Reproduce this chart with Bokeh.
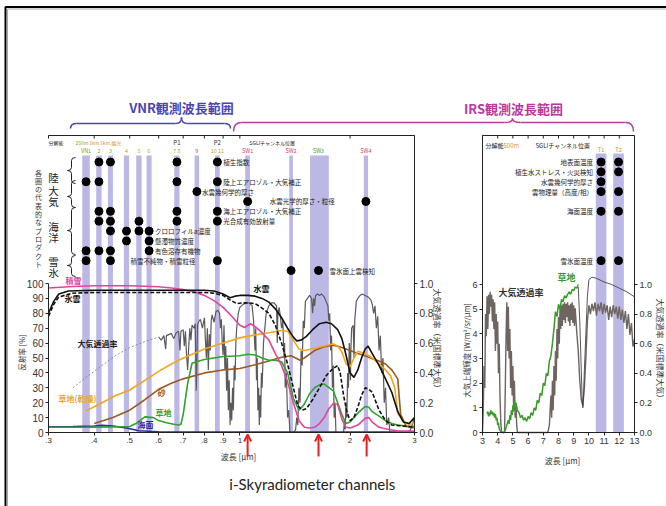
import numpy as np
from bokeh.plotting import figure
from bokeh.models import (Range1d, LogScale, LinearAxis, LogAxis, FixedTicker,
                          PrintfTickFormatter, ColumnDataSource, Arrow, OpenHead)
from bokeh.core.properties import value
from bokeh.embed import file_html
from bokeh.resources import INLINE

# ======================= DATA =======================
# SGLI VNR / SWIR channels (um)
band_names = ["VN1", "VN2", "VN3", "VN4", "VN5", "VN6", "VN7/8", "VN9", "VN10/11", "SW1", "SW2", "SW3", "SW4"]
band_center = [0.380, 0.412, 0.443, 0.490, 0.530, 0.565, 0.673, 0.763, 0.868, 1.050, 1.380, 1.640, 2.210]
band_lo = [0.371, 0.405, 0.436, 0.482, 0.521, 0.556, 0.662, 0.752, 0.855, 1.034, 1.364, 1.555, 2.180]
band_hi = [0.389, 0.419, 0.450, 0.498, 0.539, 0.574, 0.684, 0.774, 0.881, 1.066, 1.396, 1.750, 2.240]
band_label = ["VN1", "2", "3", "4", "5", "6", "7 8", "9", "10 11", "SW1", "SW2", "SW3", "SW4"]

# SGLI IRS thermal channels (um)
tir_names = ["T1", "T2"]
tir_center = [10.80, 11.95]
tir_lo = [10.45, 11.60]
tir_hi = [11.15, 12.30]

# products (rows) and the channels they use
prod_left = ["植生指数", "陸上エアロゾル・大気補正", "水雲幾何学的厚さ", "水雲光学的厚さ・粒径",
             "海上エアロゾル・大気補正", "光合成有効放射量", "クロロフィルa濃度", "懸濁物質濃度",
             "有色溶存有機物", "積雪不純物・積雪粒径", "雪氷面上雲検知"]
prod_left_row = [0, 2, 3, 4, 5, 6, 7, 8, 9, 10, 11]
prod_left_bands = [["VN2", "VN3", "VN7/8", "VN10/11"], ["VN1", "VN2", "VN7/8", "VN10/11"], ["VN9"],
                   ["SW1", "SW4"], ["VN2", "VN3", "VN7/8", "VN10/11"],
                   ["VN2", "VN3", "VN5", "VN7/8", "VN10/11"], ["VN3", "VN4", "VN5", "VN6"],
                   ["VN4", "VN6"], ["VN1", "VN2", "VN3", "VN6"], ["VN1", "VN3", "VN10/11"],
                   ["SW2", "SW3"]]
prod_right = ["地表面温度", "植生水ストレス・火災検知", "水雲幾何学的厚さ", "雲物理量（高度/相）",
              "海面温度", "雪氷面温度"]
prod_right_row = [0, 1, 2, 3, 5, 10]
prod_right_bands = [["T1", "T2"], ["T1", "T2"], ["T1"], ["T1", "T2"], ["T1", "T2"], ["T1", "T2"]]

# i-Skyradiometer channels (um)
skyrad_wl = [1.05, 1.64, 2.22]

# reflectance spectra [%]
snow_wl = [0.30, 0.35, 0.40, 0.45, 0.50, 0.55, 0.60, 0.65, 0.70, 0.75, 0.80, 0.85, 0.90, 0.95, 1.00,
           1.03, 1.07, 1.10, 1.15, 1.20, 1.25, 1.30, 1.35, 1.40, 1.45, 1.50, 1.55, 1.60, 1.65, 1.70,
           1.75, 1.80, 1.85, 1.90, 1.95, 2.00, 2.10, 2.20, 2.25, 2.30, 2.40, 2.50, 2.70, 3.00]
snow_r = [97, 98, 98.5, 98.5, 98.5, 98.2, 97.8, 97, 96, 94.5, 92, 88.5, 84, 78, 72,
          70.5, 73, 71, 67, 62, 53, 45, 34, 20, 8, 3.5, 3, 3.5, 6, 10,
          16, 19.5, 19, 9, 3.5, 3, 5, 9.5, 10, 7, 3.5, 2.5, 1, 1]

wcloud_wl = [0.30, 0.31, 0.32, 0.34, 0.40, 0.50, 0.60, 0.70, 0.80, 0.85, 0.90, 0.94, 0.97, 1.00, 1.05,
             1.10, 1.15, 1.20, 1.25, 1.30, 1.35, 1.40, 1.43, 1.47, 1.52, 1.58, 1.65, 1.72, 1.78, 1.85,
             1.90, 1.95, 2.00, 2.05, 2.10, 2.15, 2.20, 2.24, 2.30, 2.40, 2.50, 2.60, 2.70, 2.80, 2.90, 3.00]
wcloud_r = [80, 88, 93, 95, 95.5, 95.5, 95.5, 95.5, 95.5, 95, 93, 90.5, 91.5, 92, 92,
            91.5, 90, 87.5, 83, 77, 70, 64, 61.5, 62, 64.5, 69, 73, 74, 73, 69,
            63, 52, 40, 37, 42, 50, 56, 58, 53, 45, 36, 27, 14, 7, 6, 10]

icloud_wl = [0.30, 0.31, 0.32, 0.35, 0.40, 0.50, 0.60, 0.70, 0.80, 0.85, 0.90, 0.94, 0.98, 1.02, 1.06,
             1.10, 1.15, 1.20, 1.25, 1.30, 1.35, 1.40, 1.44, 1.48, 1.52, 1.58, 1.65, 1.72, 1.78, 1.85,
             1.88, 1.92, 1.96, 2.00, 2.05, 2.10, 2.15, 2.20, 2.25, 2.30, 2.40, 2.50, 2.60, 2.75, 3.00]
icloud_r = [78, 86, 91, 93.5, 94, 94, 94, 94, 94, 93.5, 92, 89, 86.5, 87, 87,
            86.5, 83.5, 80, 72, 60, 46, 30, 18, 15, 16, 22, 30, 38, 42, 45,
            40, 25, 14, 8, 10, 17, 25, 30, 29, 27, 15, 8, 5, 4.5, 3.5]

drygrass_wl = [0.38, 0.42, 0.46, 0.50, 0.55, 0.60, 0.65, 0.70, 0.75, 0.80, 0.90, 1.00, 1.10, 1.20, 1.30,
               1.35, 1.40, 1.45, 1.50, 1.60, 1.70, 1.80, 1.85, 1.90, 1.95, 2.00, 2.05, 2.10, 2.20, 2.30,
               2.40, 2.50, 2.58, 2.65, 2.70, 2.80, 2.90, 3.00]
drygrass_r = [14.5, 20, 25, 28.5, 35, 41, 46, 50, 53, 56, 60, 63.5, 65.5, 67, 68.5,
              68, 62, 56, 55, 56.5, 58, 59.5, 58, 54, 46, 44, 50, 54.5, 53, 50,
              46, 42, 38, 30, 13, 7, 5.5, 6]

sand_wl = [0.40, 0.45, 0.50, 0.55, 0.60, 0.65, 0.70, 0.80, 0.90, 1.00, 1.10, 1.20, 1.30, 1.38, 1.42,
           1.46, 1.50, 1.60, 1.70, 1.80, 1.90, 2.00, 2.10, 2.20, 2.30, 2.40, 2.50, 2.60, 2.70, 2.75,
           2.85, 3.00]
sand_r = [6, 10, 15, 22, 29, 33, 36, 40, 42, 43, 45.5, 48, 50.5, 51.5, 50,
          48.5, 50, 55, 57.5, 58.5, 57, 55, 53, 51.5, 49.5, 48, 46, 42, 36, 12,
          4, 3]

grass_wl = [0.30, 0.35, 0.40, 0.45, 0.50, 0.52, 0.55, 0.58, 0.60, 0.63, 0.66, 0.68, 0.69, 0.70, 0.72,
            0.74, 0.76, 0.80, 0.90, 1.00, 1.05, 1.10, 1.15, 1.20, 1.25, 1.30, 1.35, 1.40, 1.45, 1.50,
            1.55, 1.60, 1.65, 1.70, 1.80, 1.85, 1.90, 1.95, 2.00, 2.10, 2.20, 2.25, 2.30, 2.40, 2.50,
            2.60, 2.70, 2.80, 3.00]
grass_r = [3.5, 3.5, 3.5, 3.8, 4, 6, 10.5, 10, 8, 6.5, 5.5, 5, 5.5, 12, 33,
           46.5, 47.5, 49, 51, 51.5, 52.5, 52, 50, 48.5, 48.5, 47.5, 40, 23, 15, 19,
           26, 30, 32, 32.5, 28, 20, 12, 6, 7, 13, 17.5, 17, 14, 11, 8,
           6, 5, 4.5, 4]

ocean_wl = [0.30, 0.35, 0.40, 0.42, 0.45, 0.49, 0.53, 0.60, 0.70, 1.00, 2.00, 3.00]
ocean_r = [3.8, 4.0, 4.4, 4.8, 4.4, 3.0, 1.2, 0.5, 0.3, 0.3, 0.3, 0.3]

# atmospheric transmittance (US standard atmosphere), 0.3-3 um
trans_smooth_wl = [0.35, 0.38, 0.42, 0.46, 0.50, 0.55, 0.60]
trans_smooth_t = [0.30, 0.37, 0.45, 0.52, 0.57, 0.61, 0.64]
trans_vnr = [(0.60, 0.64), (0.61, 0.62), (0.62, 0.65), (0.627, 0.56), (0.63, 0.65), (0.65, 0.665),
             (0.66, 0.63), (0.67, 0.67), (0.68, 0.68), (0.686, 0.55), (0.69, 0.68), (0.70, 0.69),
             (0.705, 0.58), (0.71, 0.68), (0.715, 0.52), (0.72, 0.42), (0.725, 0.58), (0.73, 0.70),
             (0.735, 0.62), (0.74, 0.72), (0.75, 0.70), (0.755, 0.73), (0.760, 0.28), (0.763, 0.45),
             (0.766, 0.72), (0.77, 0.74), (0.78, 0.76), (0.79, 0.70), (0.80, 0.77), (0.805, 0.62),
             (0.81, 0.50), (0.815, 0.70), (0.82, 0.42), (0.825, 0.66), (0.83, 0.55), (0.835, 0.75),
             (0.84, 0.79), (0.85, 0.74), (0.86, 0.81), (0.87, 0.82), (0.88, 0.80), (0.885, 0.70),
             (0.89, 0.76), (0.895, 0.60), (0.90, 0.52), (0.905, 0.72), (0.91, 0.42), (0.915, 0.58),
             (0.92, 0.28), (0.925, 0.50), (0.93, 0.15), (0.935, 0.35), (0.94, 0.05), (0.945, 0.20),
             (0.95, 0.08), (0.955, 0.30), (0.96, 0.15), (0.965, 0.45), (0.97, 0.35), (0.975, 0.60),
             (0.98, 0.70), (0.99, 0.80), (1.00, 0.84), (1.02, 0.86), (1.04, 0.87), (1.06, 0.87),
             (1.08, 0.85), (1.09, 0.75), (1.10, 0.55), (1.105, 0.70), (1.11, 0.35), (1.115, 0.50),
             (1.12, 0.15), (1.125, 0.30), (1.13, 0.05), (1.135, 0.25), (1.14, 0.10), (1.145, 0.40),
             (1.15, 0.30), (1.16, 0.60), (1.17, 0.70), (1.18, 0.80), (1.20, 0.85), (1.22, 0.87),
             (1.24, 0.87), (1.26, 0.85), (1.265, 0.60), (1.27, 0.80), (1.28, 0.84), (1.29, 0.78),
             (1.30, 0.70), (1.31, 0.75), (1.32, 0.50), (1.325, 0.60), (1.33, 0.30), (1.34, 0.40),
             (1.35, 0.10), (1.36, 0.15), (1.37, 0.0), (1.40, 0.0), (1.42, 0.02), (1.43, 0.10),
             (1.44, 0.05), (1.45, 0.30), (1.46, 0.20), (1.47, 0.55), (1.48, 0.45), (1.49, 0.75),
             (1.50, 0.70), (1.51, 0.88), (1.53, 0.90), (1.55, 0.92), (1.57, 0.90), (1.58, 0.80),
             (1.59, 0.90), (1.60, 0.85), (1.61, 0.92), (1.63, 0.93), (1.65, 0.92), (1.67, 0.93),
             (1.70, 0.91), (1.72, 0.88), (1.74, 0.85), (1.75, 0.75), (1.76, 0.80), (1.77, 0.55),
             (1.78, 0.65), (1.79, 0.30), (1.80, 0.45), (1.81, 0.10), (1.82, 0.20), (1.83, 0.0),
             (1.92, 0.0), (1.93, 0.08), (1.94, 0.02), (1.95, 0.20), (1.96, 0.10), (1.97, 0.40),
             (1.98, 0.30), (1.99, 0.60), (2.00, 0.50), (2.005, 0.35), (2.01, 0.55), (2.02, 0.70),
             (2.04, 0.72), (2.05, 0.50), (2.06, 0.75), (2.08, 0.88), (2.10, 0.90), (2.13, 0.92),
             (2.16, 0.93), (2.20, 0.92), (2.24, 0.91), (2.28, 0.89), (2.30, 0.86), (2.32, 0.80),
             (2.34, 0.85), (2.36, 0.70), (2.38, 0.78), (2.40, 0.55), (2.42, 0.65), (2.44, 0.40),
             (2.46, 0.50), (2.48, 0.20), (2.50, 0.30), (2.52, 0.05), (2.55, 0.10), (2.57, 0.0),
             (2.90, 0.0), (2.95, 0.04), (3.00, 0.10)]

# atmospheric transmittance, 3-13 um
trans_tir = [(3.0, 0.0), (3.05, 0.15), (3.1, 0.45), (3.15, 0.30), (3.2, 0.80), (3.25, 0.65), (3.3, 0.92),
             (3.35, 0.70), (3.4, 0.93), (3.45, 0.80), (3.5, 0.95), (3.55, 0.85), (3.6, 0.93), (3.65, 0.75),
             (3.7, 0.90), (3.75, 0.70), (3.8, 0.88), (3.85, 0.55), (3.9, 0.80), (3.95, 0.60), (4.0, 0.75),
             (4.05, 0.40), (4.1, 0.60), (4.15, 0.25), (4.2, 0.08), (4.25, 0.0), (4.45, 0.0), (4.5, 0.30),
             (4.55, 0.65), (4.6, 0.88), (4.65, 0.55), (4.7, 0.85), (4.75, 0.50), (4.8, 0.70), (4.85, 0.30),
             (4.9, 0.55), (4.95, 0.25), (5.0, 0.45), (5.05, 0.15), (5.1, 0.35), (5.15, 0.10), (5.2, 0.20),
             (5.25, 0.05), (5.3, 0.0), (7.3, 0.0), (7.4, 0.05), (7.5, 0.25), (7.55, 0.10), (7.6, 0.35),
             (7.65, 0.15), (7.7, 0.45), (7.75, 0.25), (7.8, 0.55), (7.85, 0.35), (7.9, 0.70), (7.95, 0.50),
             (8.0, 0.78), (8.05, 0.60), (8.1, 0.84), (8.15, 0.70), (8.2, 0.86), (8.25, 0.72), (8.3, 0.87),
             (8.35, 0.76), (8.4, 0.88), (8.45, 0.74), (8.5, 0.87), (8.55, 0.78), (8.6, 0.88), (8.65, 0.75),
             (8.7, 0.86), (8.75, 0.72), (8.8, 0.87), (8.85, 0.76), (8.9, 0.88), (8.95, 0.74), (9.0, 0.86),
             (9.05, 0.72), (9.1, 0.84), (9.2, 0.68), (9.3, 0.55), (9.4, 0.35), (9.5, 0.22), (9.6, 0.18),
             (9.7, 0.30), (9.8, 0.50), (9.9, 0.75), (10.0, 0.86), (10.1, 0.80), (10.2, 0.87), (10.3, 0.82),
             (10.4, 0.88), (10.5, 0.79), (10.6, 0.87), (10.7, 0.82), (10.8, 0.88), (10.9, 0.80), (11.0, 0.87),
             (11.1, 0.81), (11.2, 0.86), (11.3, 0.76), (11.4, 0.85), (11.5, 0.78), (11.6, 0.86),
             (11.7, 0.80), (11.8, 0.85), (11.9, 0.77), (12.0, 0.85), (12.1, 0.76), (12.2, 0.83),
             (12.3, 0.74), (12.4, 0.82), (12.5, 0.70), (12.6, 0.80), (12.7, 0.66), (12.8, 0.74),
             (12.9, 0.58), (13.0, 0.63)]

# top-of-atmosphere radiance over grassland [W/m2/sr/um]
grass_toa = [(3.3, 0.75), (3.35, 0.85), (3.4, 0.65), (3.45, 0.80), (3.5, 0.70), (3.55, 0.90), (3.6, 0.75),
             (3.65, 0.85), (3.7, 0.70), (3.75, 0.80), (3.8, 0.60), (3.85, 0.75), (3.9, 0.50), (3.95, 0.60),
             (4.0, 0.30), (4.05, 0.40), (4.1, 0.15), (4.2, 0.02), (4.4, 0.0), (4.5, 0.10), (4.6, 0.30),
             (4.7, 0.50), (4.75, 0.35), (4.8, 0.70), (4.85, 0.50), (4.9, 0.90), (4.95, 0.70), (5.0, 1.10),
             (5.05, 0.85), (5.1, 1.30), (5.15, 1.00), (5.2, 1.20), (5.3, 0.90), (5.4, 0.80), (5.5, 0.60),
             (5.6, 0.70), (5.7, 0.50), (5.8, 0.60), (5.9, 0.45), (6.0, 0.65), (6.1, 0.55), (6.2, 0.80),
             (6.3, 0.70), (6.4, 1.00), (6.5, 0.90), (6.6, 1.30), (6.7, 1.20), (6.8, 1.60), (6.9, 1.50),
             (7.0, 2.00), (7.1, 1.90), (7.2, 2.40), (7.3, 2.30), (7.4, 2.90), (7.5, 3.10), (7.6, 3.60),
             (7.7, 4.20), (7.8, 4.90), (7.9, 4.70), (8.0, 5.20), (8.1, 5.00), (8.2, 5.40), (8.3, 5.30),
             (8.4, 5.55), (8.5, 5.45), (8.6, 5.60), (8.7, 5.70), (8.8, 5.60), (8.9, 5.80), (9.0, 5.75),
             (9.1, 5.90), (9.2, 5.85), (9.3, 6.00)]
toa_window = [(9.3, 5.9), (9.4, 4.5), (9.5, 2.5), (9.55, 1.5), (9.6, 1.0), (9.65, 1.5), (9.7, 2.5),
              (9.8, 4.0), (9.9, 5.5), (10.0, 6.2), (10.2, 6.3), (10.5, 6.25), (11.0, 6.1), (11.5, 6.0),
              (12.0, 5.85), (12.5, 5.7), (13.0, 5.5)]

refl_ticks = [0, 10, 20, 30, 40, 50, 60, 70, 80, 90, 100]
trans_ticks = [0.0, 0.2, 0.4, 0.6, 0.8, 1.0]
wl_ticks = [0.3, 0.4, 0.5, 0.6, 0.7, 0.8, 0.9, 1.0, 2.0, 3.0]
wl_tick_labels = [".3", ".4", ".5", ".6", ".7", ".8", ".9", "1", "2", "3"]
rad_ticks = [0, 1, 2, 3, 4, 5, 6]
tir_wl_ticks = [3, 4, 5, 6, 7, 8, 9, 10, 11, 12, 13]

# ======================= LAYOUT =======================
W, H = 666, 506
PX_L, PX_R, PX_B, PX_T = 0, 666, 506, 0      # page pixels covered by the canvas

def lin_at(v1, p1, v2, p2, px):
    return v1 + (v2 - v1) * (px - p1) / (p2 - p1)

def log_at(v1, p1, v2, p2, px):
    return 10 ** lin_at(np.log10(v1), p1, np.log10(v2), p2, px)

# (value, pixel) anchors of each panel's scales
LX = (0.3, 48, 3.0, 414)
LR = (0, 432, 100, 283)
LT = (0, 432, 1.0, 283)
RX = (3, 482, 13, 634)
RR = (0, 432, 6, 284)
RT = (0, 432, 1.0, 284)
PR = (0, 161.5, 11, 270)
BOX_TOP = 135
BAND_TOP = 155

JP = value("Noto Sans CJK JP")
BAND_COLOR = "#bcb8e6"
AX = "#222222"

p = figure(width=W, height=H, x_range=Range1d(PX_L, PX_R), y_range=Range1d(PX_B, PX_T),
           x_axis_type=None, y_axis_type=None, output_backend="svg", toolbar_location=None,
           min_border=0, outline_line_color=None, background_fill_color="white",
           border_fill_color="white")
p.extra_x_ranges = {"lx": Range1d(log_at(*LX, PX_L), log_at(*LX, PX_R)),
                    "rx": Range1d(lin_at(*RX, PX_L), lin_at(*RX, PX_R))}
p.extra_x_scales = {"lx": LogScale()}
p.extra_y_ranges = {name: Range1d(lin_at(*a, PX_B), lin_at(*a, PX_T))
                    for name, a in [("lr", LR), ("lt", LT), ("rr", RR), ("rt", RT), ("pr", PR)]}


def style_axis(ax, size="10px"):
    ax.axis_line_color = AX
    ax.axis_line_width = 1
    ax.major_tick_line_color = AX
    ax.major_tick_in = 0
    ax.major_tick_out = 3
    ax.minor_tick_line_color = None
    ax.major_label_text_font = "Liberation Sans"
    ax.major_label_text_font_size = size
    ax.major_label_text_color = "#333333"
    ax.major_label_standoff = 2
    return ax

# ---- left panel axes
p.add_layout(style_axis(LinearAxis(x_range_name="lx", y_range_name="lr", fixed_location=LX[0],
                                   bounds=(0, 100), ticker=FixedTicker(ticks=refl_ticks)), "10px"), "left")
p.add_layout(style_axis(LinearAxis(x_range_name="lx", y_range_name="lt", fixed_location=LX[2],
                                   bounds=(0, lin_at(*LT, BOX_TOP)), ticker=FixedTicker(ticks=trans_ticks),
                                   formatter=PrintfTickFormatter(format="%.1f")), "10px"), "right")
p.add_layout(style_axis(LogAxis(x_range_name="lx", y_range_name="lr", fixed_location=0,
                                bounds=(LX[0], LX[2]), ticker=FixedTicker(ticks=wl_ticks),
                                major_label_overrides=dict(zip(wl_ticks, wl_tick_labels))), "8px"), "below")
# box top edge with inward ticks
p.segment(x0=[LX[0]], y0=[BOX_TOP], x1=[LX[2]], y1=[BOX_TOP], x_range_name="lx", line_color=AX, line_width=1)
p.segment(x0=wl_ticks, y0=BOX_TOP, x1=wl_ticks, y1=BOX_TOP + 3, x_range_name="lx", line_color=AX, line_width=1)

# ---- right panel axes
p.add_layout(style_axis(LinearAxis(x_range_name="rx", y_range_name="rr", fixed_location=RX[0],
                                   bounds=(0, lin_at(*RR, BOX_TOP)), ticker=FixedTicker(ticks=rad_ticks)), "9px"), "left")
p.add_layout(style_axis(LinearAxis(x_range_name="rx", y_range_name="rt", fixed_location=RX[2],
                                   bounds=(0, lin_at(*RT, BOX_TOP)), ticker=FixedTicker(ticks=trans_ticks),
                                   formatter=PrintfTickFormatter(format="%.1f")), "9px"), "right")
p.add_layout(style_axis(LinearAxis(x_range_name="rx", y_range_name="rr", fixed_location=0,
                                   bounds=(RX[0], RX[2]), ticker=FixedTicker(ticks=tir_wl_ticks)), "9px"), "below")
p.segment(x0=[RX[0]], y0=[BOX_TOP], x1=[RX[2]], y1=[BOX_TOP], x_range_name="rx", line_color=AX, line_width=1)
p.segment(x0=tir_wl_ticks, y0=BOX_TOP, x1=tir_wl_ticks, y1=BOX_TOP + 3, x_range_name="rx",
          line_color=AX, line_width=1)

# ---- channel bands
p.quad(left=band_lo, right=band_hi, bottom=0, top=lin_at(*LR, BAND_TOP), x_range_name="lx",
       y_range_name="lr", fill_color=BAND_COLOR, line_color=None)
p.quad(left=tir_lo, right=tir_hi, bottom=0, top=lin_at(*RR, BAND_TOP - 2), x_range_name="rx",
       y_range_name="rr", fill_color=BAND_COLOR, line_color=None)

# ---- left panel spectra
p.line(trans_smooth_wl, trans_smooth_t, x_range_name="lx", y_range_name="lt",
       line_color="#777777", line_width=0.8, line_dash="2 2")
tw, tt = zip(*trans_vnr)
p.line(list(tw), list(tt), x_range_name="lx", y_range_name="lt", line_color="#5a5a5a", line_width=1.2)
for xs, ys, col, dash in [(ocean_wl, ocean_r, "#2a2aa0", "solid"),
                          (sand_wl, sand_r, "#9a5a22", "solid"),
                          (drygrass_wl, drygrass_r, "#f2a51f", "solid"),
                          (grass_wl, grass_r, "#2ea32e", "solid"),
                          (snow_wl, snow_r, "#e0449e", "solid"),
                          (icloud_wl, icloud_r, "#111111", "4 2"),
                          (wcloud_wl, wcloud_r, "#111111", "solid")]:
    p.line(xs, ys, x_range_name="lx", y_range_name="lr", line_color=col, line_width=1.6, line_dash=dash)

# ---- right panel spectra
rw, rt_ = zip(*trans_tir)
p.line(list(rw), list(rt_), x_range_name="rx", y_range_name="rt", line_color="#6e6460", line_width=1.4)
gw, gr = zip(*grass_toa)
p.line(list(gw), list(gr), x_range_name="rx", y_range_name="rr", line_color="#3a9a2a", line_width=1.5)
ww, wr = zip(*toa_window)
p.line(list(ww), list(wr), x_range_name="rx", y_range_name="rr", line_color="#444444", line_width=0.9)

# ---- product dots
bc = dict(zip(band_names, band_center))
dx, dy = [], []
for row, bands in zip(prod_left_row, prod_left_bands):
    for b in bands:
        dx.append(bc[b]); dy.append(row)
p.scatter(dx, dy, size=8, color="black", x_range_name="lx", y_range_name="pr")
tc = dict(zip(tir_names, tir_center))
dx, dy = [], []
for row, bands in zip(prod_right_row, prod_right_bands):
    for b in bands:
        dx.append(tc[b]); dy.append(row)
p.scatter(dx, dy, size=8, color="black", x_range_name="rx", y_range_name="pr")

# product labels (anchored on a channel, offset in pixels)
label_anchor = ["VN10/11", "VN10/11", "VN9", "SW1", "VN10/11", "VN10/11", "VN6", "VN6", "VN6", "VN4", "SW3"]
label_off = [6, 6, 5, 22, 6, 6, 6, 6, 6, 4, 11]
p.text([bc[a] for a in label_anchor], prod_left_row, text=prod_left, x_offset=label_off,
       x_range_name="lx", y_range_name="pr", text_font=JP, text_font_size="6.5px",
       text_baseline="middle", text_color="#222222")
p.text([tc["T1"]] * len(prod_right), prod_right_row, text=prod_right, x_offset=-8,
       x_range_name="rx", y_range_name="pr", text_font=JP, text_font_size="6.5px",
       text_align="right", text_baseline="middle", text_color="#222222")

# channel labels
band_label_color = ["#5aa52a", "#8caf20", "#8caf20", "#d49a20", "#d49a20", "#d49a20", "#c9a020",
                    "#d04070", "#c9a020", "#d04070", "#d04070", "#3fa040", "#d04070"]
p.text(band_center, [150] * len(band_center), text=band_label, x_range_name="lx",
       text_font=JP, text_font_size="5.5px", text_align="center", text_baseline="middle",
       text_color=band_label_color)
p.text([band_center[6], band_center[8]], [141.5, 141.5], text=["P1", "P2"], x_range_name="lx",
       text_font=JP, text_font_size="6px", text_align="center", text_baseline="middle", text_color="#333333")
p.text(tir_center, [149, 149], text=["T1", "T2"], x_range_name="rx", text_font=JP,
       text_font_size="5.5px", text_align="center", text_baseline="middle", text_color="#d08a30")

# header texts (pixel layout)
p.text([48, 75, 88.5, 99.5, 249], [141.5] * 5, text=["分解能", "250m", "1km", "1km,偏光", "SGLIチャンネル位置"],
       text_font=JP, text_font_size="5px", text_baseline="middle",
       text_color=["#222222", "#8caf20", "#e0902a", "#e0902a", "#222222"])
p.text([485, 503, 535], [144.5] * 3, text=["分解能", "500m", "SGLIチャンネル位置"],
       text_font=JP, text_font_size="6px", text_baseline="middle",
       text_color=["#222222", "#e0902a", "#222222"])

# titles
p.text([181], [107], text=["VNR観測波長範囲"], text_font=JP, text_font_size="13px",
       text_font_style="bold", text_align="center", text_baseline="middle", text_color="#4b45b0")
p.text([513], [108], text=["IRS観測波長範囲"], text_font=JP, text_font_size="13px",
       text_font_style="bold", text_align="center", text_baseline="middle", text_color="#b83aa0")


def hbrace(xa, xb, xm, y_end, y_flat, y_tip, r, color, w):
    p.quadratic(x0=[xa, xm - r, xm, xb - r], y0=[y_end, y_flat, y_tip, y_flat],
                x1=[xa + r, xm, xm + r, xb], y1=[y_flat, y_tip, y_flat, y_end],
                cx=[xa, xm, xm, xb], cy=[y_flat] * 4, line_color=color, line_width=w)
    p.segment(x0=[xa + r, xm + r], y0=[y_flat] * 2, x1=[xm - r, xb - r], y1=[y_flat] * 2,
              line_color=color, line_width=w)


def vbrace(ya, yb, ym, x_end, x_flat, x_tip, r, color, w):
    p.quadratic(y0=[ya, ym - r, ym, yb - r], x0=[x_end, x_flat, x_tip, x_flat],
                y1=[ya + r, ym, ym + r, yb], x1=[x_flat, x_tip, x_flat, x_end],
                cy=[ya, ym, ym, yb], cx=[x_flat] * 4, line_color=color, line_width=w)
    p.segment(y0=[ya + r, ym + r], x0=[x_flat] * 2, y1=[ym - r, yb - r], x1=[x_flat] * 2,
              line_color=color, line_width=w)


hbrace(70, 230, 181, 128, 123, 117, 6, "#4b45b0", 1.5)
hbrace(233, 633, 512, 131, 122, 118, 8, "#b83aa0", 1.5)
for ya, yb, ym in [(157, 183, 170), (180, 207, 196), (207, 254, 230), (255, 276, 265)]:
    vbrace(ya, yb, ym, 75, 71, 67, 3, "#222222", 1)

# sphere labels, written vertically one character per line
p.text([53] * 7, [177, 190, 201, 226, 237, 261, 272], text=list("陸大気海洋雪氷"),
       text_font=JP, text_font_size="10.5px", text_align="center", text_baseline="middle",
       text_color="#222222")
vt = "各圏の代表的なプロダクト"
p.text([38] * len(vt), [172 + 8.3 * i for i in range(len(vt))], text=list(vt), text_font=JP,
       text_font_size="7px", text_align="center", text_baseline="middle", text_color="#333333")

# curve labels
p.text([65, 64, 253, 77, 58, 157, 155, 137], [280, 298, 288, 343, 398, 392, 412, 424],
       text=["積雪", "氷雲", "水雲", "大気透過率", "草地(乾燥)", "砂", "草地", "海面"],
       text_font=JP, text_font_size="8px", text_baseline="middle", text_font_style="bold",
       text_color=["#e0449e", "#111111", "#111111", "#222222", "#f2a51f", "#9a5a22", "#2ea32e", "#2a2aa0"])
p.text([498, 557], [292, 277], text=["大気透過率", "草地"], text_font=JP, text_font_size="9px",
       text_baseline="middle", text_font_style="bold", text_color=["#333333", "#3a9a2a"])

# axis titles
p.text([21], [352], text=["反射率 [%]"], angle=np.pi / 2, text_font=JP, text_font_size="7.5px",
       text_align="center", text_baseline="middle", text_color="#333333")
p.text([437], [340], text=["大気透過率（米国標準大気）"], angle=-np.pi / 2, text_font=JP,
       text_font_size="8px", text_align="center", text_baseline="middle", text_color="#333333")
p.text([466], [350], text=["大気上端輝度 [W/m²/sr/μm]"], angle=np.pi / 2, text_font=JP,
       text_font_size="7.5px", text_align="center", text_baseline="middle", text_color="#333333")
p.text([660], [350], text=["大気透過率（米国標準大気）"], angle=-np.pi / 2, text_font=JP,
       text_font_size="8px", text_align="center", text_baseline="middle", text_color="#333333")
p.text([238, 562], [456, 460], text=["波長 [μm]", "波長 [μm]"], text_font=JP, text_font_size="8px",
       text_align="center", text_baseline="middle", text_color="#333333")

# i-Skyradiometer channels
red = "#e82020"
src = ColumnDataSource(dict(x=skyrad_wl, y0=[lin_at(*LR, 456)] * 3, y1=[lin_at(*LR, 434)] * 3))
p.add_layout(Arrow(x_start="x", y_start="y0", x_end="x", y_end="y1", source=src,
                   x_range_name="lx", y_range_name="lr", line_color=red, line_width=2,
                   end=OpenHead(size=7, line_color=red, line_width=2)))
p.text([312], [483], text=["i-Skyradiometer channels"], text_font=value("Lato"), text_font_size="15px",
       text_align="center", text_baseline="middle", text_color="#222222")

# page frame
p.line([5, 5, 666], [506, 6.5, 6.5], line_color="black", line_width=2)
p.line([7, 7, 666], [506, 8.5, 8.5], line_color="#aaaaaa", line_width=1)

open("out.html", "w").write(file_html(p, INLINE))
